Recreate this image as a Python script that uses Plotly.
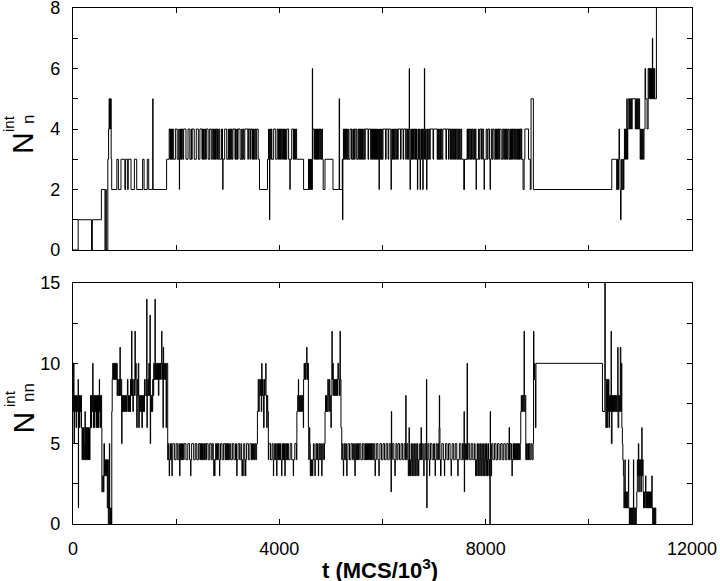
import plotly.graph_objects as go

# ---------------- data: (t, value) change points, step ("hv") trace ----------------
# Top panel: N_n^int
NN_T_START = [(0, 0), (100, 1), (360, 0), (375, 1), (550, 2), (620, 0), (635, 2), (645, 0),
              (675, 3), (690, 4), (700, 5), (708, 4), (716, 5), (724, 4), (732, 5), (740, 3),
              (750, 2), (850, 3), (880, 2), (930, 3), (1005, 2), (1020, 3), (1060, 2), (1070, 3),
              (1125, 2), (1190, 3), (1235, 2), (1350, 3), (1378, 2), (1440, 3), (1468, 2),
              (1545, 5), (1552, 2), (1815, 3), (1865, 4)]
NN_T_BAND1 = [(1880, 3), (1890, 4), (1900, 3), (1910, 4), (1920, 3), (1930, 4), (1945, 3), (1985, 4),
              (2020, 3), (2050, 4), (2058, 3), (2062, 2), (2066, 3), (2075, 4), (2085, 3), (2095, 4),
              (2105, 3), (2115, 4), (2130, 3), (2145, 4), (2190, 3), (2230, 4), (2265, 3), (2290, 4),
              (2300, 3), (2310, 4), (2350, 3), (2390, 4), (2430, 3), (2460, 4), (2500, 3), (2510, 4),
              (2520, 3), (2530, 4), (2540, 3), (2555, 4), (2570, 3), (2585, 4), (2620, 3), (2650, 4),
              (2680, 3), (2700, 4), (2720, 3), (2730, 4), (2740, 3), (2750, 4), (2762, 3), (2775, 4),
              (2790, 3), (2800, 4), (2815, 3), (2830, 4), (2845, 3), (2880, 4), (2898, 3), (2903, 2),
              (2908, 3), (2940, 4), (2980, 3), (3010, 4), (3020, 3), (3030, 4), (3040, 3), (3050, 4),
              (3060, 3), (3070, 4), (3085, 3), (3100, 4), (3140, 3), (3150, 4), (3160, 3), (3175, 4),
              (3190, 3), (3200, 4), (3240, 3), (3270, 4), (3280, 3), (3295, 4), (3310, 3), (3330, 4),
              (3390, 3), (3400, 4), (3430, 3), (3440, 4), (3470, 3), (3480, 4), (3490, 3), (3500, 4),
              (3515, 3), (3530, 4), (3545, 3), (3560, 4), (3590, 3), (3615, 2), (3770, 3), (3790, 4)]
NN_T_BAND2 = [(3795, 3), (3800, 4), (3805, 3), (3810, 1), (3815, 3), (3825, 4), (3835, 3), (3845, 4),
              (3855, 3), (3890, 4), (3930, 3), (3960, 4), (3985, 3), (3995, 4), (4005, 3), (4015, 4),
              (4025, 3), (4040, 4), (4060, 3), (4080, 4), (4090, 3), (4100, 4), (4110, 3), (4120, 4),
              (4130, 3), (4145, 4), (4180, 3), (4205, 2), (4210, 3), (4240, 4), (4272, 3), (4280, 4),
              (4290, 3), (4300, 4), (4310, 3), (4320, 4), (4335, 3), (4470, 2), (4565, 3), (4575, 2),
              (4585, 3), (4595, 2), (4605, 3), (4615, 2), (4625, 3), (4632, 2), (4640, 6), (4645, 3),
              (4650, 4), (4680, 3), (4690, 4), (4700, 3), (4710, 4), (4720, 3), (4730, 4), (4740, 3),
              (4750, 4), (4760, 3), (4772, 4), (4785, 3), (4795, 4), (4810, 3), (4822, 4), (4835, 3),
              (4850, 2), (4885, 3), (5040, 2), (5160, 5), (5168, 2), (5220, 3), (5225, 1), (5232, 3),
              (5242, 4)]
NN_T_BAND3 = [(5250, 3), (5260, 4), (5270, 3), (5280, 4), (5290, 3), (5300, 4), (5312, 3), (5325, 4),
              (5338, 3), (5370, 4), (5400, 3), (5425, 4), (5435, 3), (5445, 4), (5455, 3), (5470, 4),
              (5500, 3), (5525, 4), (5540, 3), (5550, 4), (5560, 3), (5570, 4), (5580, 3), (5590, 4),
              (5600, 3), (5612, 4), (5625, 3), (5640, 4), (5655, 3), (5665, 4), (5720, 3), (5730, 4),
              (5770, 3), (5785, 4), (5795, 3), (5805, 4), (5815, 3), (5825, 4), (5835, 3), (5845, 4),
              (5855, 3), (5865, 4), (5875, 3), (5885, 4), (5895, 3), (5905, 4), (5915, 3), (5928, 4),
              (5930, 3), (5934, 2), (5938, 3), (5945, 4), (5955, 3), (5965, 4), (5975, 3), (5985, 4),
              (5995, 3), (6010, 4), (6060, 3), (6070, 4), (6110, 3), (6120, 4), (6160, 3), (6166, 2),
              (6172, 3), (6180, 4), (6190, 3), (6200, 4), (6210, 3), (6220, 4), (6230, 3), (6245, 4),
              (6260, 3), (6275, 4), (6290, 3), (6305, 4), (6350, 3), (6360, 4), (6400, 3), (6410, 4),
              (6450, 3), (6460, 4), (6480, 3), (6490, 4), (6500, 3), (6510, 4), (6518, 6), (6524, 4),
              (6530, 3), (6535, 2), (6540, 3), (6550, 4), (6560, 3), (6570, 4), (6580, 3), (6590, 4),
              (6600, 3), (6615, 4), (6630, 3), (6640, 4), (6650, 3), (6660, 4), (6670, 3), (6677, 2),
              (6684, 3), (6695, 4), (6705, 3), (6715, 4), (6725, 3), (6730, 2), (6736, 3), (6745, 4),
              (6755, 3), (6765, 4), (6775, 3), (6782, 2), (6788, 3), (6798, 4), (6808, 3), (6812, 6),
              (6818, 4), (6828, 3), (6838, 4), (6848, 3), (6855, 2), (6862, 3), (6872, 4), (6885, 3),
              (6900, 4), (6915, 3), (6925, 4), (6980, 3), (6990, 4), (7060, 3), (7070, 4), (7080, 3),
              (7090, 4), (7100, 3), (7112, 4), (7125, 3), (7140, 4), (7155, 3), (7170, 4), (7230, 3),
              (7240, 4), (7280, 3), (7290, 4), (7315, 3), (7325, 4), (7335, 3), (7345, 4), (7360, 3),
              (7375, 4), (7390, 3), (7400, 4), (7415, 3), (7430, 4), (7445, 3), (7460, 4), (7475, 3),
              (7490, 4), (7505, 3), (7520, 4), (7535, 3), (7575, 2), (7590, 3), (7640, 4), (7650, 3),
              (7660, 4), (7670, 3), (7680, 4), (7695, 3), (7710, 4), (7725, 3), (7740, 4), (7755, 3),
              (7770, 4), (7785, 3), (7800, 4), (7812, 3), (7815, 2), (7820, 3), (7860, 4), (7875, 3),
              (7890, 4), (7920, 3), (7935, 4), (7960, 3), (7970, 2), (7976, 3), (8010, 4), (8030, 3),
              (8045, 4), (8075, 3), (8086, 2), (8092, 3), (8110, 4), (8125, 3), (8140, 4), (8165, 3),
              (8190, 4), (8210, 3), (8220, 4), (8232, 3), (8245, 4), (8258, 3), (8270, 4), (8300, 3),
              (8330, 4), (8350, 3), (8360, 4), (8370, 3), (8380, 4), (8390, 3), (8402, 4), (8415, 3),
              (8428, 4), (8450, 3), (8470, 4), (8480, 3), (8490, 4), (8500, 3), (8510, 4), (8520, 3),
              (8530, 4), (8545, 3), (8560, 4), (8580, 3), (8600, 4), (8615, 3), (8625, 4), (8635, 3),
              (8645, 4), (8655, 3), (8665, 4), (8680, 3), (8690, 4), (8700, 3), (8725, 2), (8745, 3),
              (8760, 4), (8830, 3), (8865, 2), (8880, 5), (8925, 2)]
NN_T_END = [(10445, 3), (10540, 2), (10550, 3), (10560, 2), (10575, 3), (10585, 4), (10595, 3),
            (10605, 2), (10615, 1), (10625, 2), (10635, 3), (10645, 2), (10660, 3), (10670, 2),
            (10680, 3), (10690, 4), (10700, 3), (10710, 4), (10720, 3), (10730, 4), (10736, 5),
            (10742, 4), (10750, 3), (10755, 4), (10765, 5), (10790, 4), (10800, 5), (10810, 4),
            (10820, 5), (10830, 4), (10840, 5), (10900, 4), (10910, 5), (10920, 4), (10930, 5),
            (10940, 4), (10950, 5), (10960, 4), (10975, 5), (10985, 4), (10995, 3), (11005, 4),
            (11015, 3), (11025, 4), (11035, 3), (11045, 4), (11055, 3), (11070, 4), (11090, 6),
            (11100, 5), (11130, 4), (11150, 6), (11165, 5), (11175, 6), (11185, 5), (11195, 6),
            (11205, 5), (11215, 6), (11225, 5), (11232, 7), (11238, 5), (11248, 6), (11258, 5),
            (11268, 6), (11278, 5), (11310, 8)]

# Bottom panel: N_nn^int
NNN_START = [(0, 7), (8, 10), (20, 5), (30, 8), (40, 7), (50, 8), (60, 6), (70, 8), (80, 7), (90, 8),
             (100, 9), (104, 1), (108, 7), (115, 8), (125, 6), (135, 8), (145, 7), (155, 8), (165, 6),
             (175, 4), (185, 6), (195, 4), (205, 6), (215, 5), (225, 4), (233, 7), (238, 4), (250, 6),
             (260, 4), (270, 6), (280, 4), (290, 6), (300, 4), (310, 6), (320, 4), (330, 6), (340, 8),
             (350, 6), (360, 8), (370, 7), (382, 10), (388, 8), (395, 6), (405, 8), (415, 6), (425, 8),
             (435, 7), (445, 8), (455, 6), (465, 8), (475, 6), (485, 8), (495, 6), (505, 8), (510, 9),
             (515, 7), (525, 8), (535, 6), (545, 8), (555, 6), (560, 2), (575, 3), (590, 2), (600, 5),
             (610, 3), (620, 4), (630, 3), (640, 4), (650, 3), (660, 4), (665, 1), (675, 4), (685, 0),
             (695, 1), (705, 5), (712, 0), (720, 1), (730, 0), (740, 1), (745, 0)]
NNN_HIGH = [(752, 7), (760, 9), (770, 10), (780, 9), (790, 10), (800, 9), (810, 10), (820, 9), (830, 10),
            (840, 9), (850, 10), (855, 8), (865, 9), (875, 8), (890, 9), (900, 8), (911, 11), (916, 8),
            (930, 9), (944, 5), (950, 8), (955, 7), (965, 8), (975, 7), (985, 8), (995, 7), (1005, 8),
            (1015, 7), (1025, 8), (1035, 7), (1045, 8), (1055, 9), (1065, 7), (1075, 8), (1085, 7),
            (1095, 8), (1105, 7), (1115, 9), (1125, 8), (1137, 12), (1142, 8), (1150, 9), (1160, 7),
            (1170, 8), (1180, 9), (1190, 8), (1202, 12), (1207, 9), (1215, 10), (1225, 8), (1235, 6),
            (1245, 9), (1255, 8), (1265, 10), (1275, 6), (1285, 8), (1295, 7), (1305, 8), (1315, 7),
            (1325, 8), (1335, 6), (1345, 8), (1355, 7), (1365, 8), (1375, 7), (1385, 9), (1400, 8),
            (1429, 14), (1434, 6), (1440, 8), (1450, 9), (1460, 8), (1470, 10), (1480, 8), (1493, 13),
            (1498, 5), (1505, 8), (1515, 7), (1525, 8), (1535, 7), (1545, 9), (1555, 8), (1565, 10),
            (1575, 9), (1590, 14), (1595, 9), (1605, 10), (1615, 9), (1625, 10), (1635, 9), (1645, 10),
            (1655, 8), (1665, 10), (1675, 9), (1685, 10), (1695, 9), (1705, 10), (1719, 12), (1724, 9),
            (1735, 10), (1745, 6), (1751, 11), (1757, 9), (1770, 10), (1780, 9), (1795, 10), (1805, 6),
            (1812, 9), (1817, 10), (1836, 4), (1845, 5)]
NNN_BAND1 = [(1855, 4), (1865, 3), (1872, 4), (1882, 5), (1892, 4), (1902, 5), (1912, 4), (1918, 3),
             (1924, 4), (1935, 5), (1970, 4), (2000, 5), (2030, 4), (2055, 5), (2062, 4), (2068, 3),
             (2074, 4), (2085, 5), (2095, 4), (2105, 5), (2115, 4), (2125, 5), (2140, 4), (2155, 5),
             (2190, 4), (2225, 5), (2260, 4), (2280, 3), (2286, 4), (2300, 5), (2340, 4), (2370, 5),
             (2400, 4), (2430, 5), (2460, 4), (2470, 5), (2480, 4), (2490, 5), (2500, 4), (2510, 5),
             (2520, 4), (2535, 5), (2550, 4), (2560, 5), (2575, 4), (2590, 5), (2620, 4), (2650, 5),
             (2680, 4), (2700, 5), (2720, 4), (2730, 3), (2736, 4), (2745, 3), (2752, 4), (2765, 5),
             (2780, 4), (2790, 5), (2800, 4), (2815, 5), (2830, 4), (2840, 3), (2846, 4), (2860, 5),
             (2890, 4), (2920, 5), (2950, 4), (2960, 5), (2970, 4), (2980, 5), (2990, 4), (3000, 5),
             (3010, 4), (3020, 5), (3030, 4), (3045, 5), (3060, 4), (3090, 5), (3120, 4), (3150, 5),
             (3170, 4), (3175, 3), (3180, 4), (3200, 5), (3230, 4), (3255, 5), (3270, 4), (3275, 3),
             (3285, 4), (3290, 3), (3300, 4), (3310, 5), (3330, 4), (3335, 3), (3340, 4), (3345, 3),
             (3350, 4), (3365, 5), (3400, 4), (3430, 5), (3460, 4), (3480, 5), (3500, 4), (3520, 5),
             (3540, 4), (3560, 5)]
NNN_BUMPS = [(3575, 7), (3590, 9), (3600, 7), (3610, 8), (3620, 9), (3630, 8), (3640, 9), (3650, 7),
             (3659, 10), (3664, 8), (3675, 9), (3685, 8), (3695, 6), (3705, 9), (3715, 8), (3725, 9),
             (3737, 10), (3742, 8), (3755, 6), (3765, 8), (3775, 7), (3787, 4), (3795, 5), (3830, 4),
             (3860, 5), (3880, 4), (3885, 3), (3890, 4), (3910, 5), (3920, 4), (3930, 5), (3940, 4),
             (3948, 3), (3954, 4), (3962, 5), (3972, 4), (3982, 5), (3992, 4), (4002, 5), (4012, 4),
             (4022, 5), (4032, 4), (4045, 3), (4050, 4), (4060, 5), (4070, 4), (4080, 5), (4090, 4),
             (4100, 5), (4108, 3), (4114, 4), (4125, 5), (4135, 4), (4145, 5), (4155, 4), (4165, 5),
             (4175, 4), (4210, 5), (4240, 4), (4270, 3), (4276, 4), (4300, 5), (4330, 4), (4340, 7),
             (4355, 8), (4369, 9), (4374, 7), (4385, 8), (4395, 7), (4405, 8), (4415, 7), (4425, 8),
             (4435, 7), (4445, 8), (4455, 7), (4465, 6), (4470, 9), (4480, 10), (4490, 9), (4500, 10),
             (4510, 9), (4520, 10), (4531, 11), (4536, 10), (4545, 9), (4555, 10), (4563, 6), (4570, 4),
             (4580, 6), (4590, 5), (4600, 3), (4610, 4), (4620, 3), (4630, 4), (4640, 3), (4650, 4),
             (4660, 5), (4675, 4), (4690, 3), (4696, 4), (4710, 5), (4725, 4), (4740, 5), (4752, 4),
             (4757, 3), (4762, 4), (4775, 5), (4790, 4), (4805, 5), (4815, 4), (4822, 3), (4828, 4),
             (4840, 5), (4860, 4), (4875, 5), (4886, 7), (4895, 8), (4905, 7), (4915, 8), (4925, 7),
             (4940, 9), (4950, 8), (4960, 7), (4970, 9), (4980, 8), (4990, 7), (5000, 6), (5008, 8),
             (5020, 12), (5025, 9), (5035, 10), (5045, 8), (5055, 9), (5065, 8), (5075, 9), (5085, 8),
             (5095, 9), (5105, 8), (5115, 9), (5125, 8), (5135, 10), (5150, 9), (5165, 8), (5177, 12),
             (5182, 9), (5195, 6), (5210, 4)]
NNN_BAND2 = [(5220, 5), (5235, 4), (5241, 3), (5247, 4), (5260, 5), (5275, 4), (5290, 5), (5300, 4),
             (5307, 3), (5313, 4), (5330, 5), (5360, 4), (5390, 5), (5420, 4), (5440, 5), (5455, 4),
             (5465, 3), (5471, 4), (5480, 5), (5490, 4), (5500, 5), (5510, 4), (5520, 5), (5535, 4),
             (5550, 5), (5580, 4), (5610, 5), (5640, 4), (5660, 5), (5670, 4), (5680, 5), (5690, 4),
             (5700, 5), (5710, 4), (5720, 5), (5730, 4), (5740, 5), (5750, 4), (5760, 5), (5770, 4),
             (5780, 5), (5790, 4), (5800, 5), (5815, 4), (5830, 5), (5850, 4), (5856, 3), (5862, 4),
             (5880, 5), (5910, 4), (5930, 3), (5936, 4), (5950, 5), (5980, 4), (6010, 5), (6040, 4),
             (6070, 5), (6100, 4), (6130, 5), (6160, 4), (6166, 2), (6172, 7), (6178, 4), (6190, 5),
             (6220, 4), (6240, 3), (6246, 4), (6260, 5), (6280, 4), (6300, 5), (6330, 4), (6360, 5),
             (6390, 4), (6420, 5), (6445, 4), (6451, 8), (6457, 4), (6470, 5), (6490, 4), (6500, 3),
             (6510, 4), (6515, 6), (6520, 4), (6525, 3), (6535, 4), (6545, 3), (6555, 5), (6565, 4),
             (6575, 3), (6585, 5), (6595, 4), (6605, 3), (6615, 5), (6625, 4), (6635, 3), (6645, 5),
             (6655, 4), (6665, 3), (6675, 5), (6685, 4), (6695, 3), (6705, 4), (6720, 5), (6740, 4),
             (6748, 6), (6754, 4), (6770, 5), (6790, 4), (6800, 3), (6806, 4), (6820, 5), (6840, 4),
             (6852, 9), (6858, 1), (6864, 4), (6880, 5), (6900, 4), (6910, 3), (6916, 4), (6930, 5),
             (6960, 4), (6990, 5), (7010, 4), (7020, 3), (7026, 4), (7040, 5), (7060, 4), (7075, 5),
             (7090, 4), (7097, 6), (7102, 8), (7108, 6), (7114, 4), (7125, 3), (7135, 4), (7150, 5),
             (7180, 4), (7200, 3), (7206, 4), (7220, 5), (7250, 4), (7280, 5), (7310, 4), (7330, 3),
             (7336, 4), (7350, 5), (7380, 4), (7410, 5), (7440, 4), (7460, 3), (7466, 4), (7490, 5),
             (7520, 4), (7550, 5), (7575, 4), (7582, 7), (7586, 2), (7592, 4), (7610, 5), (7630, 4),
             (7640, 10), (7646, 4), (7660, 5), (7690, 4), (7720, 5), (7750, 4), (7780, 5), (7795, 4),
             (7805, 3), (7815, 4), (7825, 3), (7835, 5), (7845, 4), (7855, 3), (7865, 5), (7875, 4),
             (7885, 3), (7895, 5), (7905, 4), (7915, 3), (7925, 5), (7935, 4), (7945, 3), (7955, 5),
             (7965, 4), (7975, 3), (7985, 5), (7995, 4), (8005, 3), (8015, 5), (8025, 4), (8035, 3),
             (8045, 5), (8055, 4), (8065, 3), (8075, 4), (8082, 0), (8088, 7), (8094, 4), (8105, 3),
             (8115, 5), (8140, 4), (8170, 5), (8200, 4), (8230, 5), (8260, 4), (8290, 5), (8320, 4),
             (8350, 5), (8380, 4), (8410, 5), (8440, 4), (8455, 6), (8462, 4), (8475, 5), (8500, 4),
             (8510, 3), (8516, 4), (8530, 5), (8540, 4), (8550, 5), (8560, 4), (8570, 5), (8580, 4),
             (8590, 5), (8600, 4), (8610, 5), (8620, 4), (8630, 5), (8640, 4), (8650, 5), (8660, 4)]
NNN_END = [(8670, 5), (8680, 7), (8690, 8), (8700, 7), (8710, 8), (8720, 7), (8730, 8), (8745, 12),
           (8750, 7), (8765, 8), (8778, 4), (8790, 5), (8800, 4), (8815, 5), (8830, 4), (8845, 5),
           (8860, 4), (8880, 5), (8900, 4), (8920, 5), (8928, 12), (8935, 9), (8945, 10), (8955, 9),
           (8965, 6), (8975, 10), (10264, 7), (10310, 15), (10318, 9), (10330, 6), (10340, 9),
           (10350, 6), (10360, 9), (10370, 7), (10380, 9), (10390, 6), (10400, 8), (10420, 7),
           (10432, 12), (10437, 5), (10450, 8), (10460, 7), (10470, 8), (10480, 7), (10490, 8),
           (10500, 7), (10510, 8), (10520, 7), (10530, 8), (10540, 7), (10561, 11), (10566, 6),
           (10580, 8), (10595, 7), (10610, 11), (10620, 7), (10630, 10), (10640, 6), (10650, 5),
           (10660, 4), (10670, 3), (10680, 1), (10690, 2), (10700, 4), (10705, 1), (10715, 2),
           (10725, 1), (10735, 2), (10745, 1), (10755, 2), (10768, 4), (10773, 1), (10785, 0),
           (10795, 1), (10805, 0), (10815, 1), (10825, 0), (10835, 1), (10845, 0), (10855, 1),
           (10865, 4), (10870, 0), (10880, 1), (10890, 0), (10900, 1), (10910, 0), (10920, 1),
           (10930, 2), (10940, 4), (10950, 3), (10960, 5), (10968, 2), (10978, 4), (10988, 3),
           (10998, 4), (11008, 2), (11018, 4), (11027, 6), (11032, 3), (11042, 4), (11052, 2),
           (11060, 1), (11070, 2), (11080, 1), (11090, 2), (11100, 3), (11106, 1), (11116, 2),
           (11126, 1), (11136, 2), (11146, 1), (11156, 2), (11166, 1), (11176, 2), (11186, 1),
           (11196, 2), (11206, 1), (11216, 2), (11222, 3), (11228, 1), (11238, 0), (11248, 1),
           (11258, 0), (11268, 1), (11278, 0), (11288, 1), (11298, 0)]

X_TICKS = [0, 4000, 8000, 12000]
TOP_Y_TICKS = [0, 2, 4, 6, 8]
BOT_Y_TICKS = [0, 5, 10, 15]

top_pts = NN_T_START + NN_T_BAND1 + NN_T_BAND2 + NN_T_BAND3 + NN_T_END
bot_pts = NNN_START + NNN_HIGH + NNN_BAND1 + NNN_BUMPS + NNN_BAND2 + NNN_END

FONT = "Liberation Sans, Arial, Helvetica, sans-serif"

fig = go.Figure()
fig.add_trace(go.Scatter(x=[p[0] for p in top_pts], y=[p[1] for p in top_pts],
                         mode="lines", line=dict(color="black", width=1, shape="hv"),
                         xaxis="x", yaxis="y", showlegend=False, hoverinfo="skip"))
fig.add_trace(go.Scatter(x=[p[0] for p in bot_pts], y=[p[1] for p in bot_pts],
                         mode="lines", line=dict(color="black", width=1, shape="hv"),
                         xaxis="x2", yaxis="y2", showlegend=False, hoverinfo="skip"))

common_ax = dict(showgrid=False, zeroline=False, showline=True, linecolor="black", linewidth=1.3,
                 mirror="allticks", ticks="inside", ticklen=5, tickwidth=1, tickcolor="black",
                 automargin=False, ticklabeloverflow="allow",
                 tickfont=dict(family=FONT, size=18, color="black"))
minor_ax = dict(ticks="inside", ticklen=5, tickwidth=1, tickcolor="black", showgrid=False)

fig.update_layout(
    width=720, height=581,
    margin=dict(l=73, r=28, t=8, b=57, autoexpand=False),
    paper_bgcolor="white", plot_bgcolor="white",
    xaxis=dict(domain=[0, 1], range=[0, 12000], anchor="y", tickvals=X_TICKS,
               showticklabels=False, minor=dict(dtick=2000, **minor_ax), **common_ax),
    yaxis=dict(domain=[(524 - 250) / 516, 1.0], range=[0, 8], anchor="x", tickvals=TOP_Y_TICKS,
               ticklabelstandoff=8, minor=dict(dtick=1, **minor_ax), **common_ax),
    xaxis2=dict(domain=[0, 1], range=[0, 12000], anchor="y2", tickvals=X_TICKS,
                ticktext=[str(v) for v in X_TICKS], ticklabelstandoff=8,
                minor=dict(dtick=2000, **minor_ax), **common_ax),
    yaxis2=dict(domain=[0, (524 - 283) / 516], range=[0, 15], anchor="x2", tickvals=BOT_Y_TICKS,
                ticklabelstandoff=8, minor=dict(dtick=2.5, **minor_ax), **common_ax),
)


def px_to_paper(px, py):
    return (px - 73) / 619.0, (524 - py) / 516.0


def add_label(text, px, py, size):
    x, y = px_to_paper(px, py)
    fig.add_annotation(text=text, x=x, y=y, xref="paper", yref="paper", showarrow=False,
                       textangle=-90, xanchor="center", yanchor="middle",
                       font=dict(family=FONT, size=size, color="black"))


# y-axis titles: N with stacked subscript / superscript
add_label("N", 22.5, 143.5, 30)
add_label("n", 28, 120, 17)
add_label("int", 9, 124, 15)
add_label("N", 22.5, 423, 30)
add_label("nn", 28, 393, 17)
add_label("int", 9, 399, 15)

# x-axis title
tx, ty = px_to_paper(380, 569)
fig.add_annotation(text="<b>t (MCS/10<sup>3</sup>)</b>", x=tx, y=ty, xref="paper", yref="paper",
                   showarrow=False, xanchor="center", yanchor="middle",
                   font=dict(family=FONT, size=22, color="black"))

fig.write_html("out.html", config={"displayModeBar": False},
               post_script="document.body.style.margin='0';document.body.style.padding='0';")
